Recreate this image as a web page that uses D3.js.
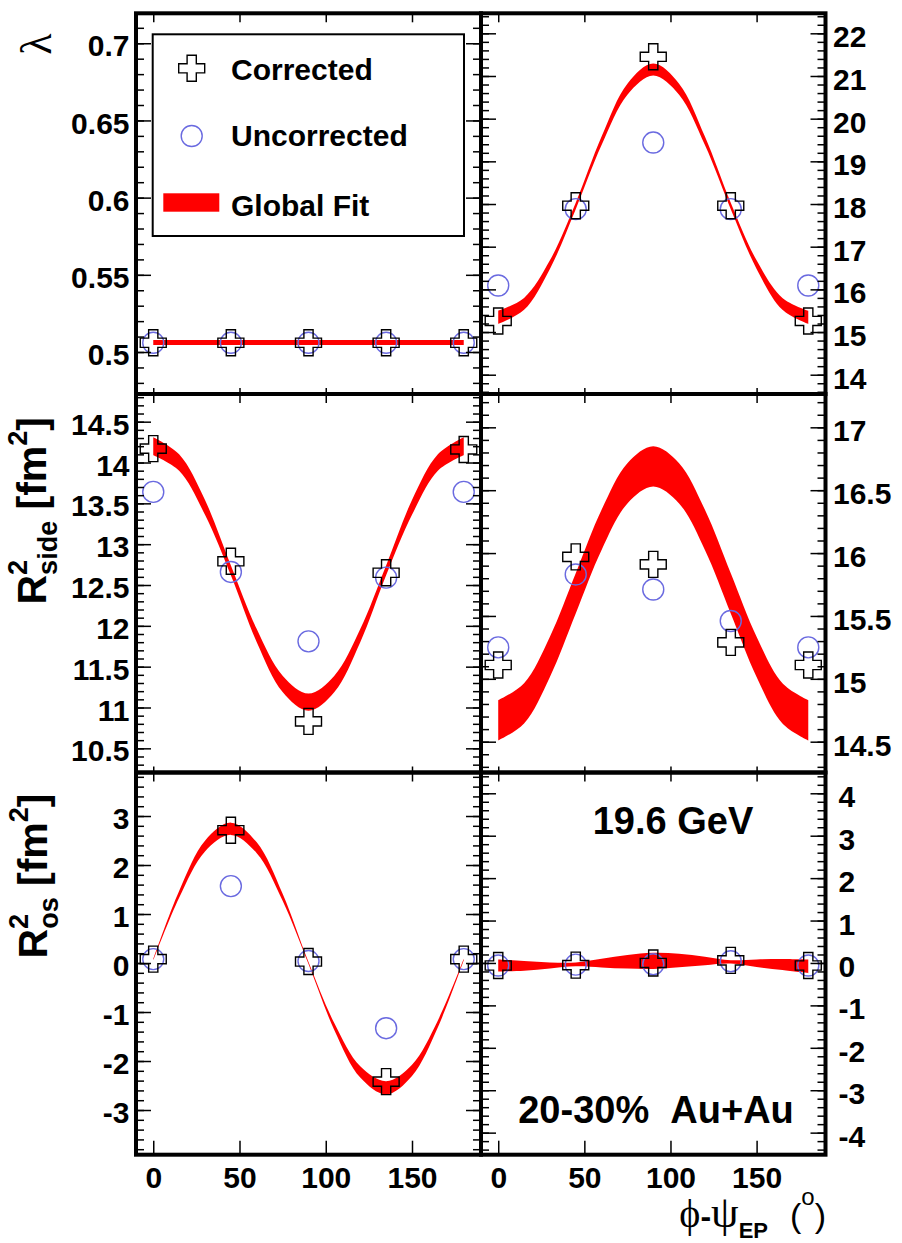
<!DOCTYPE html>
<html><head><meta charset="utf-8">
<script src="https://cdn.jsdelivr.net/npm/d3@7"></script>
<style>body{margin:0;background:#fff;} svg{display:block;}</style>
</head><body>
<svg id="chart" width="902" height="1243"></svg>
<script>
// ---------------- data ----------------
const angles = [0, 45, 90, 135, 180];
const xTicks = [0, 50, 100, 150];

const lambdaCorrected   = [0.506, 0.506, 0.506, 0.506, 0.506];
const lambdaUncorrected = [0.506, 0.506, 0.506, 0.506, 0.506];
const routCorrected     = [15.26, 17.96, 21.45, 17.96, 15.26];
const routUncorrected   = [16.09, 17.88, 19.44, 17.88, 16.09];
const rsideCorrected    = [14.17, 12.79, 10.83, 12.65, 14.16];
const rsideUncorrected  = [13.64, 12.66, 11.81, 12.59, 13.64];
const rlongCorrected    = [15.11, 15.97, 15.91, 15.29, 15.11];
const rlongUncorrected  = [15.25, 15.83, 15.71, 15.46, 15.25];
const rosCorrected      = [0.08, 2.71, 0.03, -2.42, 0.08];
const rosUncorrected    = [0.08, 1.57, 0.04, -1.33, 0.08];
const rolCorrected      = [-0.06, -0.05, 0.00, 0.06, -0.06];
const rolUncorrected    = [-0.06, -0.04, -0.03, 0.04, -0.06];

// global-fit band (upper / lower edge) read at 15 degree steps
const fitAngles = [0, 15, 30, 45, 60, 75, 90, 105, 120, 135, 150, 165, 180];
const lambdaFitUpper = [0.5078, 0.5078, 0.5078, 0.5078, 0.5078, 0.5078, 0.5078, 0.5078, 0.5078, 0.5078, 0.5078, 0.5078, 0.5078];
const lambdaFitLower = [0.5045, 0.5045, 0.5045, 0.5045, 0.5045, 0.5045, 0.5045, 0.5045, 0.5045, 0.5045, 0.5045, 0.5045, 0.5045];
const routFitUpper = [15.50, 15.80, 16.68, 18.03, 19.58, 20.82, 21.29, 20.82, 19.58, 18.03, 16.68, 15.80, 15.50];
const routFitLower = [15.19, 15.52, 16.48, 17.88, 19.38, 20.56, 21.01, 20.56, 19.38, 17.88, 16.48, 15.52, 15.19];
const rsideFitUpper = [14.31, 14.10, 13.54, 12.74, 11.96, 11.39, 11.17, 11.39, 11.96, 12.74, 13.54, 14.10, 14.31];
const rsideFitLower = [14.09, 13.90, 13.36, 12.62, 11.80, 11.19, 10.96, 11.19, 11.80, 12.62, 13.36, 13.90, 14.09];
const rlongFitUpper = [14.83, 14.965, 15.335, 15.84, 16.345, 16.715, 16.85, 16.715, 16.345, 15.84, 15.335, 14.965, 14.83];
const rlongFitLower = [14.51, 14.645, 15.015, 15.52, 16.025, 16.395, 16.53, 16.395, 16.025, 15.52, 15.015, 14.645, 14.51];
const rosFitUpper = [0.085, 1.472, 2.497, 2.865, 2.462, 1.412, 0.02, -1.231, -2.109, -2.411, -2.074, -1.171, 0.085];
const rosFitLower = [0.055, 1.332, 2.277, 2.615, 2.242, 1.272, -0.02, -1.371, -2.339, -2.681, -2.304, -1.311, 0.055];
const rolFitUpper = [0.08, 0.047, 0.012, 0.01, 0.097, 0.188, 0.24, 0.218, 0.149, 0.065, 0.084, 0.092, 0.08];
const rolFitLower = [-0.20, -0.183, -0.129, -0.08, -0.104, -0.132, -0.14, -0.102, -0.052, -0.015, -0.097, -0.168, -0.24];

// tick labels
const lambdaTicks = [0.5, 0.55, 0.6, 0.65, 0.7];
const lambdaTickLabels = ["0.5", "0.55", "0.6", "0.65", "0.7"];
const routTicks = [14, 15, 16, 17, 18, 19, 20, 21, 22];
const routTickLabels = ["14", "15", "16", "17", "18", "19", "20", "21", "22"];
const rsideTicks = [10.5, 11, 11.5, 12, 12.5, 13, 13.5, 14, 14.5];
const rsideTickLabels = ["10.5", "11", "11.5", "12", "12.5", "13", "13.5", "14", "14.5"];
const rlongTicks = [14.5, 15, 15.5, 16, 16.5, 17];
const rlongTickLabels = ["14.5", "15", "15.5", "16", "16.5", "17"];
const rosTicks = [-3, -2, -1, 0, 1, 2, 3];
const rosTickLabels = ["-3", "-2", "-1", "0", "1", "2", "3"];
const rolTicks = [-4, -3, -2, -1, 0, 1, 2, 3, 4];
const rolTickLabels = ["-4", "-3", "-2", "-1", "0", "1", "2", "3", "4"];
const xTickLabels = ["0", "50", "100", "150"];

const legendLabels = ["Corrected", "Uncorrected", "Global Fit"];
const energyLabel = "19.6 GeV";
const centralityLabel = "20-30%\u00A0\u00A0Au+Au";

// ---------------- layout ----------------
const svg = d3.select("#chart");
const colX = [136, 481, 825.5];
const rowY = [13.3, 394, 772.5, 1154.7];
const xDomain = [-10, 190];
const SANS = "'Liberation Sans', Arial, Helvetica, sans-serif";
const SERIF = "'Liberation Serif', 'Times New Roman', serif";
const RED = "#ff0000";
const BLUE = "#6a6ae0";

const panels = [
  {row:0, col:0, domain:[0.4728, 0.7194], ticks:lambdaTicks, labels:lambdaTickLabels, minor:0.01,
   corr:lambdaCorrected, uncorr:lambdaUncorrected, up:lambdaFitUpper, lo:lambdaFitLower},
  {row:0, col:1, domain:[13.548, 22.469], ticks:routTicks, labels:routTickLabels, minor:0.2,
   corr:routCorrected, uncorr:routUncorrected, up:routFitUpper, lo:routFitLower, pad:7.5},
  {row:1, col:0, domain:[10.204, 14.839], ticks:rsideTicks, labels:rsideTickLabels, minor:0.1,
   corr:rsideCorrected, uncorr:rsideUncorrected, up:rsideFitUpper, lo:rsideFitLower},
  {row:1, col:1, domain:[14.255, 17.265], ticks:rlongTicks, labels:rlongTickLabels, minor:0.1,
   corr:rlongCorrected, uncorr:rlongUncorrected, up:rlongFitUpper, lo:rlongFitLower, pad:7.5},
  {row:2, col:0, domain:[-3.912, 3.888], ticks:rosTicks, labels:rosTickLabels, minor:0.2,
   corr:rosCorrected, uncorr:rosUncorrected, up:rosFitUpper, lo:rosFitLower},
  {row:2, col:1, domain:[-4.52, 4.49], ticks:rolTicks, labels:rolTickLabels, minor:0.2,
   corr:rolCorrected, uncorr:rolUncorrected, up:rolFitUpper, lo:rolFitLower, pad:13}
];

const crossPath = (a, L) => `M${-a},${-L}H${a}V${-a}H${L}V${a}H${a}V${L}H${-a}V${a}H${-L}V${-a}H${-a}Z`;
const CROSS = crossPath(4.6, 13);

function minorValues(dom, step) {
  const lo = Math.ceil(dom[0] / step - 1e-9), hi = Math.floor(dom[1] / step + 1e-9);
  return d3.range(lo, hi + 1).map(i => Math.round(i * step * 1e6) / 1e6);
}

function styleAxis(g, withText) {
  g.select(".domain").remove();
  g.selectAll("line").attr("stroke", "#000").attr("stroke-width", 1.5);
  g.attr("font-family", SANS).attr("font-size", 30).attr("font-weight", "bold");
  if (!withText) g.selectAll("text").remove();
}

const frameLayer = [];
panels.forEach(p => {
  const x0 = colX[p.col], x1 = colX[p.col + 1], y0 = rowY[p.row], y1 = rowY[p.row + 1];
  const x = d3.scaleLinear().domain(xDomain).range([x0, x1]);
  const y = d3.scaleLinear().domain(p.domain).range([y1, y0]);
  const g = svg.append("g");

  // band
  const area = d3.area()
    .x((d, i) => x(fitAngles[i]))
    .y0((d, i) => y(p.lo[i]))
    .y1((d, i) => y(p.up[i]))
    .curve(d3.curveCatmullRom.alpha(0.5));
  g.append("path").datum(p.up).attr("d", area).attr("fill", RED);

  // uncorrected circles
  g.append("g").selectAll("circle").data(p.uncorr).join("circle")
    .attr("cx", (d, i) => x(angles[i])).attr("cy", d => y(d)).attr("r", 10.5)
    .attr("fill", "none").attr("stroke", BLUE).attr("stroke-width", 1.4);
  // corrected crosses
  g.append("g").selectAll("path").data(p.corr).join("path")
    .attr("d", CROSS)
    .attr("transform", (d, i) => `translate(${x(angles[i])},${y(d)})`)
    .attr("fill", "none").attr("stroke", "#000").attr("stroke-width", 1.4);

  const minors = minorValues(p.domain, p.minor);
  // left side ticks
  const gl = g.append("g").attr("transform", `translate(${x0},0)`)
    .call(d3.axisLeft(y).tickValues(p.ticks).tickSizeInner(-15).tickSizeOuter(0).tickPadding(6.5)
      .tickFormat((d, i) => p.labels[i]));
  styleAxis(gl, p.col === 0);
  gl.selectAll("text").attr("dy", "0.42em");
  const glm = g.append("g").attr("transform", `translate(${x0},0)`)
    .call(d3.axisLeft(y).tickValues(minors).tickSizeInner(-8).tickSizeOuter(0).tickFormat(""));
  styleAxis(glm, false);
  // right side ticks
  const gr = g.append("g").attr("transform", `translate(${x1},0)`)
    .call(d3.axisRight(y).tickValues(p.ticks).tickSizeInner(-15).tickSizeOuter(0).tickPadding(p.pad || 7.5)
      .tickFormat((d, i) => p.labels[i]));
  styleAxis(gr, p.col === 1);
  gr.selectAll("text").attr("dy", "0.45em");
  const grm = g.append("g").attr("transform", `translate(${x1},0)`)
    .call(d3.axisRight(y).tickValues(minors).tickSizeInner(-8).tickSizeOuter(0).tickFormat(""));
  styleAxis(grm, false);
  // top ticks
  const gt = g.append("g").attr("transform", `translate(0,${y0})`)
    .call(d3.axisTop(x).tickValues(xTicks).tickSizeInner(-9).tickSizeOuter(0).tickFormat(""));
  styleAxis(gt, false);
  // bottom ticks
  const gb = g.append("g").attr("transform", `translate(0,${y1})`)
    .call(d3.axisBottom(x).tickValues(xTicks).tickSizeInner(p.row === 2 ? -14 : -6).tickSizeOuter(0).tickPadding(12)
      .tickFormat((d, i) => xTickLabels[i]));
  styleAxis(gb, p.row === 2);

  frameLayer.push([x0, y0, x1 - x0, y1 - y0]);
});

// ---------------- legend ----------------
const lg = svg.append("g");
lg.append("rect").attr("x", 152.7).attr("y", 34.3).attr("width", 311.3).attr("height", 201.7)
  .attr("fill", "#fff").attr("stroke", "#000").attr("stroke-width", 2);
lg.append("path").attr("d", CROSS).attr("transform", "translate(191.7,68.3)")
  .attr("fill", "none").attr("stroke", "#000").attr("stroke-width", 1.4);
lg.append("circle").attr("cx", 191.7).attr("cy", 136).attr("r", 10.5)
  .attr("fill", "none").attr("stroke", BLUE).attr("stroke-width", 1.4);
lg.append("rect").attr("x", 163.3).attr("y", 193.3).attr("width", 56).attr("height", 18.4).attr("fill", RED);
lg.selectAll("text").data(legendLabels).join("text")
  .attr("x", 231).attr("y", (d, i) => [79.5, 146, 215.5][i])
  .attr("font-family", SANS).attr("font-weight", "bold").attr("font-size", 30).attr("fill", "#000")
  .text(d => d);

// ---------------- annotations ----------------
svg.append("text").attr("x", 673).attr("y", 834).attr("text-anchor", "middle")
  .attr("font-family", SANS).attr("font-weight", "bold").attr("font-size", 38).text(energyLabel);
svg.append("text").attr("x", 656).attr("y", 1123).attr("text-anchor", "middle")
  .attr("font-family", SANS).attr("font-weight", "bold").attr("font-size", 38).text(centralityLabel);

// ---------------- axis titles ----------------
svg.append("text").attr("transform", "translate(51,44) rotate(-90)").attr("text-anchor", "middle")
  .attr("font-family", SERIF).attr("font-size", 44).text("λ");

function radiusTitle(tx, ty, sub) {
  const t = svg.append("text").attr("transform", `translate(${tx},${ty}) rotate(-90)`)
    .attr("text-anchor", "end").attr("font-family", SANS).attr("font-weight", "bold");
  t.append("tspan").attr("font-size", 41).text("R");
  t.append("tspan").attr("font-size", 27).attr("dy", -19).text("2");
  t.append("tspan").attr("font-size", 27).attr("dx", -15).attr("dy", 30).text(sub);
  t.append("tspan").attr("font-size", 41).attr("dy", -11).text("\u00A0[fm");
  t.append("tspan").attr("font-size", 27).attr("dy", -19).text("2");
  t.append("tspan").attr("font-size", 41).attr("dy", 19).text("]");
}
radiusTitle(46, 417, "side");
radiusTitle(47, 793.5, "os");

const xt = svg.append("text").attr("x", 826).attr("y", 1227).attr("text-anchor", "end");
xt.append("tspan").attr("font-family", SERIF).attr("font-size", 40).text("\u03D5");
xt.append("tspan").attr("font-family", SANS).attr("font-weight", "bold").attr("font-size", 32).text("-");
xt.append("tspan").attr("font-family", SERIF).attr("font-size", 44).text("ψ");
xt.append("tspan").attr("font-family", SANS).attr("font-weight", "bold").attr("font-size", 22).attr("dy", 11).text("EP");
xt.append("tspan").attr("font-family", SANS).attr("font-size", 34).attr("dx", 22).attr("dy", -11).text("(");
xt.append("tspan").attr("font-family", SANS).attr("font-size", 24).attr("dy", -22).text("o");
xt.append("tspan").attr("font-family", SANS).attr("font-size", 34).attr("dy", 22).text(")");

// ---------------- frames ----------------
svg.append("g").selectAll("rect").data(frameLayer).join("rect")
  .attr("x", d => d[0]).attr("y", d => d[1]).attr("width", d => d[2]).attr("height", d => d[3])
  .attr("fill", "none").attr("stroke", "#000").attr("stroke-width", 4);
</script>
</body></html>
